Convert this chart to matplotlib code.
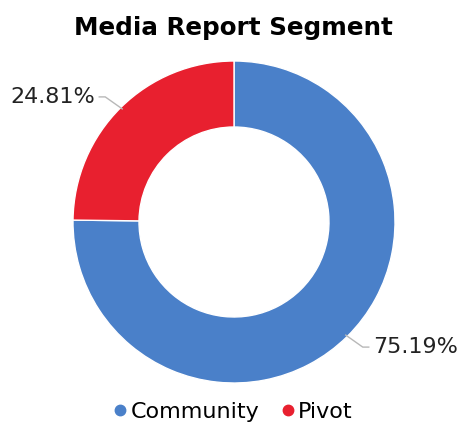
import numpy as np
import matplotlib
matplotlib.use("Agg")
import matplotlib.pyplot as plt
from matplotlib.lines import Line2D

# segment shares (percent)
segments = ["Community", "Pivot"]
shares = [75.19, 24.81]
colors = ["#4a80c9", "#e8202f"]

W, H = 458, 429
fig = plt.figure(figsize=(W / 100, H / 100), dpi=100)
ax = fig.add_axes([0, 0, 1, 1])

cx, cy = 234, H - 222
r_out, r_in = 161, 95

wedges, _ = ax.pie(shares, colors=colors, startangle=90, counterclock=False,
                   center=(cx, cy), radius=r_out, frame=True,
                   wedgeprops=dict(width=r_out - r_in, edgecolor="white", linewidth=1))
ax.set_xlim(0, W)
ax.set_ylim(0, H)
ax.set_aspect("equal")
ax.axis("off")

# value labels with short leader lines
for w, val in zip(wedges, shares):
    mid = np.deg2rad((w.theta1 + w.theta2) / 2)
    ex, ey = cx + (r_out - 2) * np.cos(mid), cy + (r_out - 2) * np.sin(mid)
    sx = np.sign(np.cos(mid))
    kx, ky = ex + sx * 17, ey + np.sign(np.sin(mid)) * 12
    tx = kx + sx * 6
    ax.plot([ex, kx, tx], [ey, ky, ky], color="#b8b8b8", lw=1)
    ax.text(tx + sx * 4, ky, f"{val:.2f}%", ha="left" if sx > 0 else "right",
            va="center", fontsize=16, color="#222222")

ax.text(233, H - 35, "Media Report Segment", ha="center", va="baseline",
        fontsize=17.7, fontweight="bold", color="black")

handles = [Line2D([], [], marker="o", ls="", ms=7.5, color=c) for c in colors]
fig.legend(handles, segments, loc="center", bbox_to_anchor=(232 / W, 1 - 412 / H),
           ncol=2, frameon=False, fontsize=16, handletextpad=0.05,
           columnspacing=0.9, handlelength=0.8)

fig.savefig("out.png", dpi=100)
